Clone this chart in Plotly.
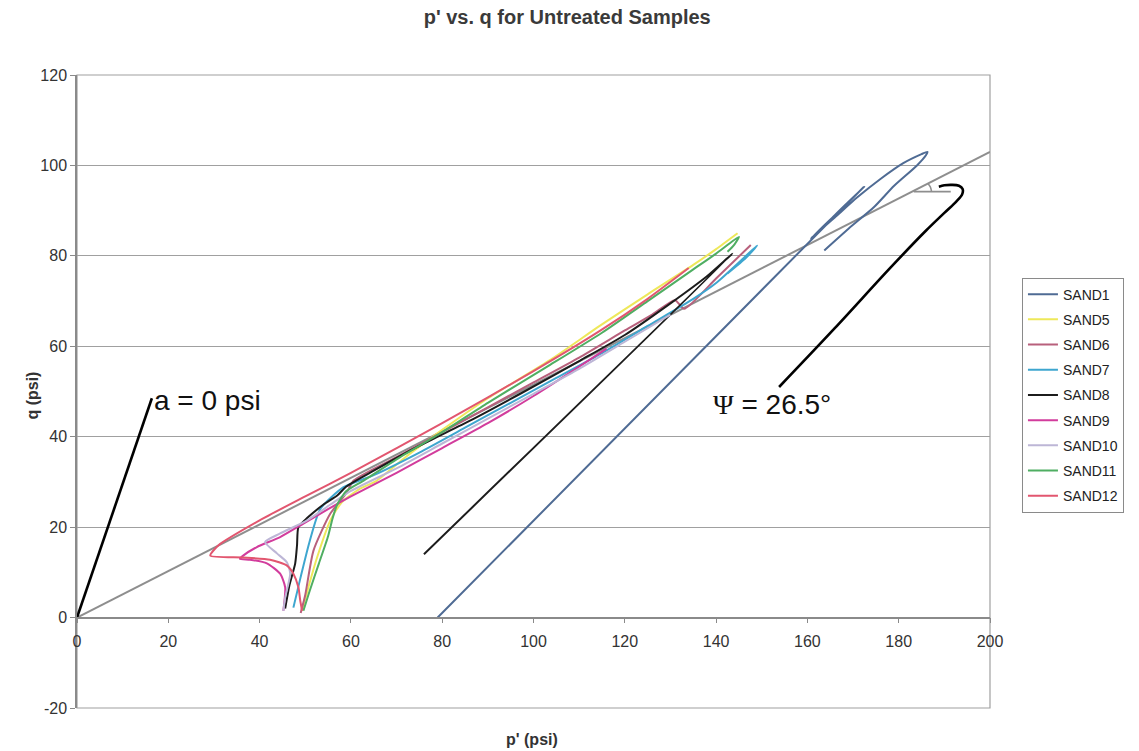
import plotly.graph_objects as go

# ---------------- data ----------------
series_names = ["SAND1", "SAND5", "SAND6", "SAND7", "SAND8", "SAND9", "SAND10", "SAND11", "SAND12"]
series_colors = ["#4f6b94", "#eee85a", "#b8607c", "#3ea6cf", "#1c1c1c", "#d23c9c", "#bdb6d6", "#4fae62", "#e2566f"]

sand1_p = [79, 172.4, 166, 160.7, 166, 171, 176, 181, 185, 186.3, 186, 184, 179, 174.6, 169, 163.7]
sand1_q = [0, 95.3, 89, 83.8, 88.5, 93, 97, 100.5, 102.5, 103, 102.3, 100, 95.5, 90.8, 86, 81.2]

sand5_p = [49.3, 50.5, 52.5, 55.5, 58, 62, 65.7, 72, 80, 90, 103.7, 114.5, 125, 135, 140, 144.7]
sand5_q = [1.5, 6, 13, 21.5, 25.5, 28.5, 30.3, 35.5, 41.5, 48.5, 57, 64.5, 71.5, 78, 81.5, 85]

sand6_p = [49, 50, 51.8, 55.5, 59, 60.6, 70, 80, 90, 100, 110, 120, 126, 131, 133, 140, 147.6]
sand6_q = [1, 5, 14.8, 23, 27.5, 30.3, 35.5, 41, 46.5, 52, 57.5, 63.5, 67, 70.2, 68.3, 75, 82.4]

sand7_p = [47.4, 49, 51, 53.3, 58.3, 65, 75, 85, 95, 105, 115, 125, 135, 140, 146, 149, 146.5, 142.5]
sand7_q = [2.2, 9, 17, 24, 28.8, 31.5, 36.5, 42, 47.5, 53, 58.5, 64.5, 70.5, 74, 79.5, 82.3, 79.5, 76.1]

sand8_p = [45.6, 46.5, 47.8, 48.2, 48.5, 50.4, 54, 57, 59, 65, 75, 86.2, 98, 110.3, 120, 130, 138, 143.6, 76]
sand8_q = [2, 7, 12, 16, 20, 22, 25, 27, 29, 32.5, 38, 43.6, 50, 56.9, 62.5, 69.5, 75.5, 80.5, 14]

sand9_p = [45.2, 45.6, 44.5, 41.6, 37.9, 35.7, 36.4, 39.4, 44.5, 49.6, 55, 60, 70, 80, 90, 100, 110, 116]
sand9_q = [1.5, 6.7, 9.7, 12, 12.8, 13, 13.7, 15.6, 17.8, 20.8, 24, 26.8, 32, 37.5, 43, 49, 55.5, 59.5]

sand10_p = [45.2, 45.6, 46.7, 46, 43.8, 41.2, 44.5, 50.4, 55.5, 60, 70, 80, 90, 100, 110, 120, 130]
sand10_q = [1.5, 4.4, 9.7, 12.2, 14.2, 16.7, 18.6, 21.5, 25, 28, 33, 38.5, 44, 49.5, 55, 61, 67]

sand11_p = [49.6, 51, 53, 55, 56, 57, 59, 62.8, 70, 80, 90, 103, 115, 125, 135, 140, 145, 144, 142.5]
sand11_q = [1.5, 6, 12, 18, 22, 25, 28, 30.3, 35, 41, 47.5, 55.5, 63, 70, 77, 80.5, 84.2, 82.5, 80.9]

sand12_p = [49.3, 48.9, 48.5, 47.4, 46, 42.3, 36.4, 29.2, 31, 40, 50, 60, 80, 100, 114.7, 125, 134]
sand12_q = [1.5, 3.8, 6.7, 9.7, 11.5, 12.8, 13.3, 13.7, 16, 21.5, 26.8, 32, 43, 54.5, 63.5, 70.5, 77.3]

series_p = [sand1_p, sand5_p, sand6_p, sand7_p, sand8_p, sand9_p, sand10_p, sand11_p, sand12_p]
series_q = [sand1_q, sand5_q, sand6_q, sand7_q, sand8_q, sand9_q, sand10_q, sand11_q, sand12_q]

# failure envelope and annotation guides
fail_p = [0, 200]
fail_q = [0, 103]
a_line_p = [0, 16.4]
a_line_q = [0, 48.5]
psi_line_p = [153.8, 166, 178.3, 186, 190, 192.6, 193.9, 194, 193.2, 191.6, 190, 188.8]
psi_line_q = [51, 64, 77.5, 85.6, 89.5, 92, 93.6, 94.8, 95.5, 95.7, 95.6, 95.3]
angle_base_p = [183.3, 191.4]
angle_base_q = [94.2, 94.2]
angle_arc_p = [186.4, 186.95, 187.2]
angle_arc_q = [96.0, 95.2, 94.2]

x_ticks = [0, 20, 40, 60, 80, 100, 120, 140, 160, 180, 200]
y_ticks = [-20, 0, 20, 40, 60, 80, 100, 120]
y_tick_text = ["-20", "0", "20", "40", "60", "80", "100", "120"]

FONT = "Liberation Sans, Arial, sans-serif"

fig = go.Figure()

fig.add_trace(go.Scatter(x=fail_p, y=fail_q, mode="lines", line=dict(color="#8e8e8e", width=2),
                         showlegend=False, hoverinfo="skip"))

for i, (name, col, px, qy) in enumerate(zip(series_names, series_colors, series_p, series_q)):
    fig.add_trace(go.Scatter(x=px, y=qy, mode="lines", name=name,
                             line=dict(color=col, width=2, shape="spline", smoothing=0.6),
                             legendgroup=name))

fig.add_trace(go.Scatter(x=a_line_p, y=a_line_q, mode="lines", line=dict(color="black", width=2.6),
                         showlegend=False, hoverinfo="skip"))
fig.add_trace(go.Scatter(x=psi_line_p, y=psi_line_q, mode="lines",
                         line=dict(color="black", width=2.6, shape="spline", smoothing=1.0),
                         showlegend=False, hoverinfo="skip"))
fig.add_trace(go.Scatter(x=angle_base_p, y=angle_base_q, mode="lines", line=dict(color="#8e8e8e", width=1.8),
                         showlegend=False, hoverinfo="skip"))
fig.add_trace(go.Scatter(x=angle_arc_p, y=angle_arc_q, mode="lines",
                         line=dict(color="#8e8e8e", width=1.5, shape="spline"),
                         showlegend=False, hoverinfo="skip"))

fig.update_layout(
    width=1139, height=751,
    margin=dict(l=77, r=149, t=75, b=43),
    paper_bgcolor="white", plot_bgcolor="white",
    font=dict(family=FONT, color="#333333", size=14),
    title=dict(text="<b>p' vs. q for Untreated Samples</b>", x=0.498, xanchor="center",
               y=0.977, yanchor="middle", font=dict(size=20, color="#3a3a3a")),
    showlegend=True,
    legend=dict(x=1.035, y=0.68, xanchor="left", yanchor="top",
                bordercolor="#8a8a8a", borderwidth=1, bgcolor="white",
                font=dict(size=14, color="#222222"), itemwidth=30,
                tracegroupgap=4, traceorder="grouped"),
    xaxis=dict(range=[0, 200], tickvals=x_ticks, showgrid=False, zeroline=False,
               showline=True, linecolor="#8a8a8a", linewidth=1.5,
               ticks="outside", ticklen=5, tickcolor="#8a8a8a",
               anchor="free", position=20 / 140, ticklabelstandoff=4,
               tickfont=dict(size=16, color="#333333")),
    yaxis=dict(range=[-20, 120], tickvals=y_ticks, ticktext=y_tick_text,
               showgrid=True, gridcolor="#a0a0a0", gridwidth=1,
               zeroline=False, showline=True, linecolor="#8a8a8a", linewidth=1.5,
               ticks="outside", ticklen=5, tickcolor="#8a8a8a",
               tickfont=dict(size=16, color="#333333")),
    shapes=[dict(type="rect", xref="paper", yref="paper", x0=0, x1=1, y0=0, y1=1,
                 line=dict(color="#a0a0a0", width=1.2), layer="below")],
    annotations=[
        dict(text="<b>p' (psi)</b>", xref="paper", yref="paper", x=0.498, y=-0.05,
             showarrow=False, font=dict(size=16, color="#333333"), xanchor="center", yanchor="middle"),
        dict(text="<b>q (psi)</b>", xref="paper", yref="paper", x=-0.049, y=0.494, textangle=-90,
             showarrow=False, font=dict(size=16, color="#333333"), xanchor="center", yanchor="middle"),
        dict(text="a = 0 psi", x=a_line_p[1], y=a_line_q[1], xref="x", yref="y", xanchor="left",
             yanchor="middle", yshift=-2, showarrow=False, font=dict(size=28, color="#111111")),
        dict(text="<span style=\"font-family:'Liberation Serif'\">Ψ</span> = 26.5°", x=psi_line_p[0], y=psi_line_q[0],
             xref="x", yref="y", xanchor="center", yanchor="top", xshift=-7, yshift=0,
             showarrow=False, font=dict(size=28, color="#111111")),
    ],
)

fig.write_html("out.html")
